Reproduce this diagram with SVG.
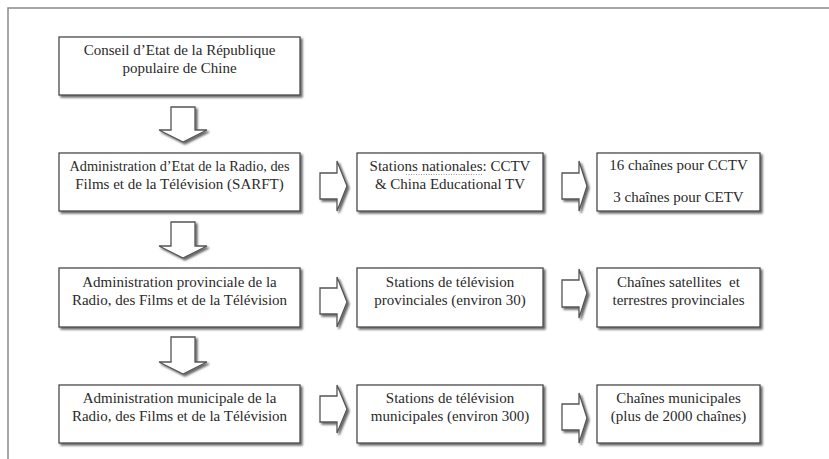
<svg xmlns="http://www.w3.org/2000/svg" width="829" height="459" viewBox="0 0 829 459">
<defs>
<filter id="sh" x="-10%" y="-10%" width="130%" height="140%">
<feGaussianBlur in="SourceAlpha" stdDeviation="1"/>
<feOffset dx="1.5" dy="1.5" result="b"/>
<feComponentTransfer><feFuncA type="linear" slope="0.6"/></feComponentTransfer>
<feMerge><feMergeNode/><feMergeNode in="SourceGraphic"/></feMerge>
</filter>
<style>
.box{fill:#fff;stroke:#4a4a4a;stroke-width:1.3;filter:url(#sh)}
.arr{fill:#fff;stroke:#555;stroke-width:1.3;stroke-linejoin:miter;filter:url(#sh)}
.t text{font-size:15px;fill:#2a2a2a;text-anchor:middle}
.frame{stroke:#8a8a8a;stroke-width:1.5;fill:none}
</style>
</defs>
<rect width="829" height="459" fill="#fff"/>
<path class="frame" d="M8,459 V8 H829"/>

<g class="t" font-family="Liberation Serif, DejaVu Serif, serif">
<g id="n1"><rect class="box" x="59" y="37" width="241" height="58"/>
<text x="179.5" y="55">Conseil d’Etat de la République</text>
<text x="179.5" y="73">populaire de Chine</text></g>

<g id="n2"><rect class="box" x="59" y="153" width="241" height="58"/>
<text x="179.5" y="171" textLength="220" lengthAdjust="spacingAndGlyphs">Administration d’Etat de la Radio, des</text>
<text x="179.5" y="189">Films et de la Télévision (SARFT)</text></g>

<g id="n3"><rect class="box" x="357" y="153" width="186" height="58"/>
<text x="450" y="171">Stations nationales: CCTV</text>
<text x="450" y="189">&amp; China Educational TV</text>
<line x1="406" y1="174.5" x2="482" y2="174.5" stroke="#999" stroke-width="1" stroke-dasharray="1,1.5"/></g>

<g id="n4"><rect class="box" x="597" y="153" width="163" height="58"/>
<text x="678.5" y="170">16 chaînes pour CCTV</text>
<text x="678.5" y="202">3 chaînes pour CETV</text></g>

<g id="n5"><rect class="box" x="59" y="268" width="241" height="59"/>
<text x="179.5" y="287">Administration provinciale de la</text>
<text x="179.5" y="305">Radio, des Films et de la Télévision</text></g>

<g id="n6"><rect class="box" x="357" y="268" width="186" height="59"/>
<text x="450" y="287">Stations de télévision</text>
<text x="450" y="305">provinciales (environ 30)</text></g>

<g id="n7"><rect class="box" x="597" y="268" width="163" height="59"/>
<text x="678.5" y="287" xml:space="preserve">Chaînes satellites  et</text>
<text x="678.5" y="305">terrestres provinciales</text></g>

<g id="n8"><rect class="box" x="59" y="385" width="241" height="58"/>
<text x="179.5" y="403">Administration municipale de la</text>
<text x="179.5" y="421">Radio, des Films et de la Télévision</text></g>

<g id="n9"><rect class="box" x="357" y="385" width="186" height="58"/>
<text x="450" y="403">Stations de télévision</text>
<text x="450" y="421">municipales (environ 300)</text></g>

<g id="n10"><rect class="box" x="597" y="385" width="163" height="58"/>
<text x="678.5" y="403">Chaînes municipales</text>
<text x="678.5" y="421">(plus de 2000 chaînes)</text></g>
</g>

<g id="connectors">
<path class="arr" d="M171,107 H195 V130 H207 L183,142 L159,130 H171 Z"/>
<path class="arr" d="M171,222 H195 V246 H207 L183,258 L159,246 H171 Z"/>
<path class="arr" d="M171,337 H195 V362 H207 L183,374 L159,362 H171 Z"/>
<path class="arr" d="M320,173 H337 V161 L347,186 L337,211 V199 H320 Z"/>
<path class="arr" d="M562,173 H579 V161 L587,186 L579,211 V199 H562 Z"/>
<path class="arr" d="M320,288 H337 V277 L347,302 L337,327 V314 H320 Z"/>
<path class="arr" d="M562,280 H579 V269 L587,293 L579,318 V307 H562 Z"/>
<path class="arr" d="M320,396 H337 V385 L347,409 L337,433 V422 H320 Z"/>
<path class="arr" d="M562,404 H579 V393 L587,418 L579,443 V430 H562 Z"/>
</g>
</svg>
